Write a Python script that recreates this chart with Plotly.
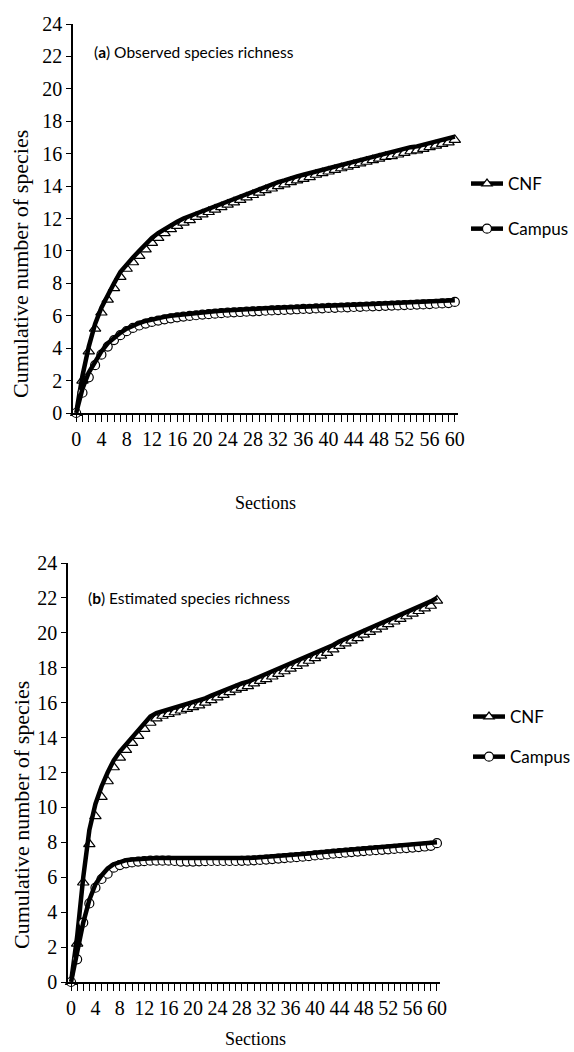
import plotly.graph_objects as go

sections = list(range(61))
x_label_step = 4
x_tick_text = [str(v) if v % x_label_step == 0 else "" for v in sections]
y_tick_vals = list(range(0, 25, 2))

# (a) Observed species richness
obs_cnf_line = [0, 2.3, 4.1, 5.5, 6.5, 7.3, 8.0, 8.7, 9.2, 9.6, 10.0, 10.4, 10.8, 11.1, 11.35, 11.6,
                11.8, 12.0, 12.15, 12.35, 12.5, 12.65, 12.8, 12.95, 13.1, 13.25, 13.4, 13.55, 13.7,
                13.85, 14.0, 14.1, 14.25, 14.35, 14.5, 14.6, 14.7, 14.8, 14.95, 15.05, 15.15, 15.25,
                15.35, 15.45, 15.55, 15.65, 15.75, 15.85, 15.95, 16.05, 16.1, 16.2, 16.3, 16.4, 16.45,
                16.55, 16.65, 16.75, 16.85, 16.95, 17.05]
obs_cnf_pts = [0, 2.0, 3.8, 5.2, 6.2, 7.0, 7.7, 8.4, 8.9, 9.3, 9.7, 10.1, 10.5, 10.8, 11.1, 11.35,
               11.55, 11.75, 11.9, 12.1, 12.25, 12.4, 12.55, 12.7, 12.85, 13.0, 13.15, 13.3, 13.45,
               13.6, 13.75, 13.85, 14.0, 14.1, 14.25, 14.35, 14.45, 14.55, 14.7, 14.8, 14.9, 15.0,
               15.1, 15.2, 15.3, 15.4, 15.5, 15.6, 15.7, 15.8, 15.85, 15.95, 16.05, 16.15, 16.2,
               16.3, 16.4, 16.5, 16.6, 16.7, 16.85]
obs_campus_line = [0, 1.5, 2.5, 3.2, 3.8, 4.3, 4.65, 4.95, 5.2, 5.4, 5.55, 5.68, 5.78, 5.86, 5.93,
                   6.0, 6.05, 6.1, 6.14, 6.18, 6.22, 6.25, 6.28, 6.31, 6.34, 6.36, 6.38, 6.4, 6.42,
                   6.44, 6.46, 6.48, 6.5, 6.51, 6.53, 6.54, 6.56, 6.57, 6.59, 6.6, 6.62, 6.63, 6.65,
                   6.66, 6.68, 6.69, 6.71, 6.72, 6.74, 6.75, 6.77, 6.78, 6.8, 6.81, 6.83, 6.84, 6.86,
                   6.88, 6.9, 6.92, 6.95]
obs_campus_pts = [0, 1.25, 2.2, 2.95, 3.6, 4.1, 4.5, 4.8, 5.05, 5.25, 5.4, 5.52, 5.62, 5.7, 5.78,
                  5.84, 5.9, 5.95, 5.99, 6.03, 6.07, 6.1, 6.13, 6.16, 6.19, 6.21, 6.23, 6.25, 6.27,
                  6.29, 6.31, 6.33, 6.35, 6.36, 6.38, 6.4, 6.42, 6.43, 6.45, 6.46, 6.48, 6.49, 6.51,
                  6.52, 6.54, 6.55, 6.57, 6.58, 6.6, 6.61, 6.63, 6.64, 6.66, 6.67, 6.69, 6.7, 6.72,
                  6.74, 6.76, 6.78, 6.85]

# (b) Estimated species richness
est_cnf_line = [0, 2.6, 6.0, 8.7, 10.2, 11.2, 12.0, 12.7, 13.2, 13.6, 14.0, 14.4, 14.8, 15.2, 15.4,
                15.5, 15.6, 15.7, 15.8, 15.9, 16.0, 16.1, 16.25, 16.4, 16.55, 16.7, 16.85, 17.0,
                17.1, 17.2, 17.35, 17.5, 17.6, 17.75, 17.9, 18.05, 18.2, 18.35, 18.5, 18.65, 18.8,
                18.95, 19.1, 19.3, 19.5, 19.65, 19.8, 19.95, 20.15, 20.3, 20.45, 20.6, 20.75, 20.9,
                21.05, 21.2, 21.35, 21.5, 21.65, 21.8, 22.0]
est_cnf_pts = [0, 2.2, 5.7, 7.9, 9.5, 10.6, 11.5, 12.3, 12.85, 13.3, 13.7, 14.1, 14.5, 14.85, 15.1,
               15.25, 15.35, 15.45, 15.55, 15.65, 15.75, 15.85, 16.0, 16.15, 16.3, 16.45, 16.6,
               16.75, 16.85, 16.95, 17.1, 17.25, 17.35, 17.5, 17.65, 17.8, 17.95, 18.1, 18.25, 18.4,
               18.55, 18.7, 18.85, 19.05, 19.25, 19.4, 19.55, 19.7, 19.9, 20.05, 20.2, 20.35, 20.5,
               20.65, 20.8, 20.95, 21.1, 21.25, 21.4, 21.55, 21.85]
est_campus_line = [0, 1.7, 3.4, 4.7, 5.6, 6.1, 6.5, 6.75, 6.9, 6.98, 7.02, 7.05, 7.08, 7.1, 7.1, 7.1,
                   7.1, 7.08, 7.06, 7.05, 7.05, 7.06, 7.07, 7.08, 7.08, 7.08, 7.08, 7.08, 7.09, 7.1,
                   7.12, 7.14, 7.16, 7.19, 7.22, 7.25, 7.27, 7.3, 7.33, 7.36, 7.4, 7.43, 7.46, 7.5,
                   7.53, 7.56, 7.59, 7.62, 7.65, 7.67, 7.7, 7.72, 7.75, 7.77, 7.8, 7.82, 7.85, 7.88,
                   7.91, 7.94, 8.0]
est_campus_pts = [0, 1.3, 3.4, 4.5, 5.4, 5.9, 6.2, 6.55, 6.7, 6.8, 6.85, 6.9, 6.92, 6.95, 6.95, 6.95,
                  6.95, 6.93, 6.9, 6.9, 6.9, 6.91, 6.92, 6.93, 6.93, 6.93, 6.93, 6.93, 6.94, 6.95,
                  6.97, 6.99, 7.01, 7.04, 7.07, 7.1, 7.12, 7.15, 7.18, 7.21, 7.25, 7.28, 7.31, 7.35,
                  7.38, 7.41, 7.44, 7.47, 7.5, 7.52, 7.55, 7.57, 7.6, 7.62, 7.65, 7.67, 7.7, 7.73,
                  7.76, 7.8, 7.95]

series_names = ["CNF", "Campus"]
symbols = ["triangle-up", "circle"]

W, H = 574, 1052
LINE_W = 4.5
BLACK = "black"

fig = go.Figure()


def add_panel(xa, ya, cnf_line, cnf_pts, campus_line, campus_pts, legend_id):
    for name, sym, line_vals, pt_vals, msize in [
        (series_names[0], symbols[0], cnf_line, cnf_pts, 10),
        (series_names[1], symbols[1], campus_line, campus_pts, 9),
    ]:
        fig.add_trace(go.Scatter(
            x=sections, y=pt_vals, mode="markers", xaxis=xa, yaxis=ya,
            marker=dict(symbol=sym, size=msize, color="white", line=dict(color=BLACK, width=1.2)),
            showlegend=False, cliponaxis=False, hoverinfo="skip"))
        fig.add_trace(go.Scatter(
            x=sections, y=line_vals, mode="lines", xaxis=xa, yaxis=ya,
            line=dict(color=BLACK, width=LINE_W),
            showlegend=False, cliponaxis=False))
        fig.add_trace(go.Scatter(
            x=[None], y=[None], mode="lines+markers", xaxis=xa, yaxis=ya, name=name,
            legend=legend_id, legendgroup=legend_id + name,
            line=dict(color=BLACK, width=LINE_W),
            marker=dict(symbol=sym, size=9, color="white", line=dict(color=BLACK, width=1.2))))


add_panel("x", "y", obs_cnf_line, obs_cnf_pts, obs_campus_line, obs_campus_pts, "legend")
add_panel("x2", "y2", est_cnf_line, est_cnf_pts, est_campus_line, est_campus_pts, "legend2")

serif = "Liberation Serif, Times New Roman, serif"
sans = "Lato, Carlito, Calibri, sans-serif"


def xaxis_cfg(domain, anchor):
    return dict(
        domain=domain, anchor=anchor, range=[-0.5, 60.5], showgrid=False, zeroline=False,
        showline=True, linecolor=BLACK, linewidth=1.5, automargin=False,
        tickmode="array", tickvals=sections, ticktext=x_tick_text, ticks="outside",
        ticklen=7, tickcolor=BLACK, tickwidth=1,
        tickfont=dict(family=serif, size=20, color=BLACK), fixedrange=True)


def yaxis_cfg(domain, anchor):
    return dict(
        domain=domain, anchor=anchor, range=[0, 24], showgrid=False, zeroline=False,
        showline=True, linecolor=BLACK, linewidth=1.5, automargin=False,
        tickmode="array", tickvals=y_tick_vals, ticks="outside", ticklen=5,
        tickcolor=BLACK, tickwidth=1,
        tickfont=dict(family=serif, size=20, color=BLACK), fixedrange=True)


fig.update_layout(
    width=W, height=H, margin=dict(l=0, r=0, t=0, b=0, pad=0, autoexpand=False),
    paper_bgcolor="white", plot_bgcolor="white",
    xaxis=xaxis_cfg([73 / W, 458 / W], "y"),
    yaxis=yaxis_cfg([1 - 413 / H, 1 - 24 / H], "x"),
    xaxis2=xaxis_cfg([68 / W, 440 / W], "y2"),
    yaxis2=yaxis_cfg([1 - 982 / H, 1 - 563 / H], "x2"),
    legend=dict(x=466 / W, y=1 - 166 / H, xanchor="left", yanchor="top",
                font=dict(family=sans, size=17, color=BLACK), tracegroupgap=20,
                bgcolor="rgba(0,0,0,0)", itemwidth=32),
    legend2=dict(x=468 / W, y=1 - 699 / H, xanchor="left", yanchor="top",
                 font=dict(family=sans, size=17, color=BLACK), tracegroupgap=15,
                 bgcolor="rgba(0,0,0,0)", itemwidth=32),
    showlegend=True,
)

annotations = [
    dict(text="(<b>a</b>) Observed species richness", x=92 / W, y=1 - 52 / H, xref="paper", yref="paper",
         xanchor="left", yanchor="middle", showarrow=False, font=dict(family=sans, size=15.5, color=BLACK)),
    dict(text="(<b>b</b>) Estimated species richness", x=86 / W, y=1 - 598 / H, xref="paper", yref="paper",
         xanchor="left", yanchor="middle", showarrow=False, font=dict(family=sans, size=15.5, color=BLACK)),
    dict(text="Cumulative number of species", x=21 / W, y=1 - 264 / H, xref="paper", yref="paper",
         xanchor="center", yanchor="middle", textangle=-90, showarrow=False,
         font=dict(family=serif, size=22, color=BLACK)),
    dict(text="Cumulative number of species", x=21 / W, y=1 - 815 / H, xref="paper", yref="paper",
         xanchor="center", yanchor="middle", textangle=-90, showarrow=False,
         font=dict(family=serif, size=22, color=BLACK)),
    dict(text="Sections", x=265 / W, y=1 - 503 / H, xref="paper", yref="paper",
         xanchor="center", yanchor="middle", showarrow=False, font=dict(family=serif, size=18, color=BLACK)),
    dict(text="Sections", x=255 / W, y=1 - 1039 / H, xref="paper", yref="paper",
         xanchor="center", yanchor="middle", showarrow=False, font=dict(family=serif, size=18, color=BLACK)),
]
fig.update_layout(annotations=annotations)

fig.write_html("out.html", config={"displayModeBar": False},
               post_script="document.body.style.margin='0';document.body.style.overflow='hidden';")
